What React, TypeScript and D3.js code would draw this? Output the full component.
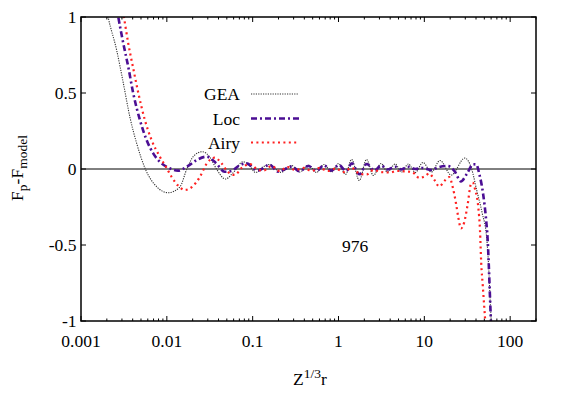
import React from "react";
import * as d3 from "d3";

const W = 568;
const H = 397;

const xTickVals = [0.001, 0.01, 0.1, 1, 10, 100];
const xTickLabels = ["0.001", "0.01", "0.1", "1", "10", "100"];
const yTickVals = [-1, -0.5, 0, 0.5, 1];
const yTickLabels = ["-1", "-0.5", "0", "0.5", "1"];

const geaX = [0.00185, 0.00207, 0.0026, 0.00311, 0.00371, 0.00444, 0.00562, 0.00759, 0.0104, 0.0142, 0.0171, 0.0206, 0.0259, 0.0316, 0.0379, 0.0482, 0.0602, 0.0771, 0.0923, 0.108, 0.131, 0.158, 0.212, 0.284, 0.352, 0.448, 0.555, 0.678, 0.83, 1.0, 1.21, 1.42, 1.75, 2.12, 2.55, 3.13, 3.71, 4.58, 5.4, 6.52, 7.86, 9.62, 12.1, 15.2, 20.6, 29.6, 35.6, 40.7, 47.2, 53.3, 56.2, 58.5, 60.1, 61.8];
const geaY = [1.145, 1.0, 0.783, 0.566, 0.342, 0.171, 0, -0.116, -0.156, -0.118, 0, 0.086, 0.114, 0.079, 0, -0.066, -0.02, 0.048, 0.02, -0.023, 0.013, 0.03, -0.022, 0.023, -0.02, 0.026, -0.023, 0.03, -0.02, 0.036, -0.036, 0.063, -0.076, 0.063, -0.043, 0.036, -0.02, 0.033, -0.02, 0.033, -0.023, 0.043, -0.02, 0.056, -0.04, 0.072, 0, -0.138, -0.29, -0.454, -0.645, -0.862, -1.0, -1.125];

const locX = [0.00242, 0.00272, 0.00311, 0.00355, 0.00406, 0.00486, 0.00581, 0.00694, 0.00868, 0.0108, 0.0135, 0.0177, 0.0223, 0.029, 0.0372, 0.0472, 0.0565, 0.0687, 0.0845, 0.115, 0.158, 0.197, 0.286, 0.352, 0.448, 0.551, 0.675, 0.822, 1.01, 1.23, 1.43, 1.75, 2.13, 2.62, 3.14, 3.71, 4.56, 5.4, 6.39, 7.86, 9.55, 12.0, 14.9, 18.7, 22.6, 26.7, 31.2, 37.2, 40.3, 43.6, 48.6, 52.2, 54.7, 56.2, 57.8, 59.3, 61.0];
const locY = [1.178, 1.0, 0.827, 0.673, 0.498, 0.322, 0.191, 0.103, 0.037, 0.005, -0.011, 0.02, 0.059, 0.081, 0.04, -0.018, -0.013, 0.02, 0.037, -0.011, 0.028, -0.018, 0.016, -0.015, 0.02, -0.013, 0.024, -0.011, 0.026, -0.013, 0.037, -0.035, 0.033, -0.011, 0.023, -0.003, 0.015, -0.003, 0.015, 0, 0.007, -0.007, 0.013, 0.02, -0.016, -0.082, -0.033, 0.031, 0.03, -0.03, -0.171, -0.322, -0.467, -0.612, -0.796, -0.961, -1.125];

const airyX = [0.00284, 0.00316, 0.00355, 0.00406, 0.00466, 0.00555, 0.00664, 0.00829, 0.00993, 0.0114, 0.0135, 0.0162, 0.0202, 0.0242, 0.029, 0.0361, 0.0432, 0.0516, 0.0618, 0.0745, 0.0923, 0.114, 0.134, 0.166, 0.206, 0.255, 0.316, 0.392, 0.487, 0.604, 0.75, 0.93, 1.15, 1.42, 1.75, 2.12, 2.55, 3.16, 3.92, 4.85, 6.01, 7.24, 8.75, 10.0, 11.4, 13.1, 14.9, 17.1, 19.5, 21.4, 23.4, 24.8, 26.7, 29.2, 31.9, 34.9, 36.6, 39.2, 42.5, 44.5, 46.0, 47.9, 49.9, 51.2, 52.6];
const airyY = [1.145, 1.0, 0.827, 0.662, 0.498, 0.322, 0.191, 0.081, 0.007, -0.053, -0.109, -0.138, -0.112, -0.053, 0.033, 0.075, 0.039, -0.02, -0.039, 0.007, 0.033, -0.003, -0.01, 0.02, -0.013, 0.013, -0.007, 0.007, -0.013, 0.007, -0.013, 0.003, -0.02, 0.007, -0.03, -0.036, -0.007, -0.02, -0.023, -0.013, -0.016, -0.02, -0.059, -0.049, -0.03, -0.072, -0.115, -0.079, -0.053, -0.118, -0.227, -0.314, -0.391, -0.349, -0.237, -0.099, -0.089, -0.138, -0.25, -0.401, -0.618, -0.763, -0.908, -1.0, -1.125];

const seriesNames = ["GEA", "Loc", "Airy"];

const M = { left: 81, right: 536, top: 17, bottom: 321 };

const FONT = "Liberation Serif, Times New Roman, DejaVu Serif, serif";
const FS = 17.5;
const SUB = 13.5;

export default function App() {
  const x = d3.scaleLog().domain([0.001, 200]).range([M.left, M.right]);
  const y = d3.scaleLinear().domain([-1, 1]).range([M.bottom, M.top]);

  const mk = (xs: number[], ys: number[]) =>
    d3
      .line<number>()
      .x((_, i) => x(xs[i]))
      .y((d) => y(d))
      .curve(d3.curveMonotoneX)(ys) as string;

  const styles = [
    { color: "#333333", width: 1.1, dash: "1.2,1.2", path: mk(geaX, geaY) },
    { color: "#4b0e94", width: 2.6, dash: "6,3,2,3", path: mk(locX, locY) },
    { color: "#ff2020", width: 2.2, dash: "2,3.4", path: mk(airyX, airyY) },
  ];

  const minor: number[] = [];
  for (let e = -3; e <= 2; e++) {
    for (let k = 2; k <= 9; k++) {
      const v = k * Math.pow(10, e);
      if (v <= 200) minor.push(v);
    }
  }

  const ts = { fontFamily: FONT, fontSize: FS } as React.CSSProperties;
  const legendY = [94, 118.5, 142.5];

  return (
    <svg
      width={W}
      height={H}
      style={{ position: "absolute", left: 0, top: 0, background: "#fff", fontFamily: FONT }}
    >
      <defs>
        <clipPath id="plotclip">
          <rect x={M.left} y={M.top} width={M.right - M.left} height={M.bottom - M.top} />
        </clipPath>
      </defs>
      <rect width={W} height={H} fill="#fff" />
      <line x1={M.left} x2={M.right} y1={y(0)} y2={y(0)} stroke="#000" strokeWidth={1} />
      {xTickVals.map((v) => (
        <g key={"xt" + v}>
          <line x1={x(v)} x2={x(v)} y1={M.bottom} y2={M.bottom - 5} stroke="#000" />
          <line x1={x(v)} x2={x(v)} y1={M.top} y2={M.top + 5} stroke="#000" />
        </g>
      ))}
      {minor.map((v) => (
        <g key={"xm" + v}>
          <line x1={x(v)} x2={x(v)} y1={M.bottom} y2={M.bottom - 2.5} stroke="#000" />
          <line x1={x(v)} x2={x(v)} y1={M.top} y2={M.top + 2.5} stroke="#000" />
        </g>
      ))}
      {yTickVals.map((v) => (
        <g key={"yt" + v}>
          <line x1={M.left} x2={M.left + 5} y1={y(v)} y2={y(v)} stroke="#000" />
          <line x1={M.right} x2={M.right - 5} y1={y(v)} y2={y(v)} stroke="#000" />
        </g>
      ))}
      <g clipPath="url(#plotclip)">
        {styles.map((s, i) => (
          <path
            key={i}
            d={s.path}
            fill="none"
            stroke={s.color}
            strokeWidth={s.width}
            strokeDasharray={s.dash}
          />
        ))}
      </g>
      <rect
        x={M.left}
        y={M.top}
        width={M.right - M.left}
        height={M.bottom - M.top}
        fill="none"
        stroke="#000"
        strokeWidth={1.5}
      />
      {xTickVals.map((v, i) => (
        <text key={"xl" + v} x={x(v)} y={347} textAnchor="middle" style={ts}>
          {xTickLabels[i]}
        </text>
      ))}
      {yTickVals.map((v, i) => (
        <text key={"yl" + v} x={76.5} y={y(v) + 6} textAnchor="end" style={ts}>
          {yTickLabels[i]}
        </text>
      ))}
      {seriesNames.map((n, i) => (
        <g key={n}>
          <text x={240} y={legendY[i] + 6} textAnchor="end" style={ts}>
            {n}
          </text>
          <line
            x1={251}
            x2={299}
            y1={legendY[i]}
            y2={legendY[i]}
            stroke={styles[i].color}
            strokeWidth={styles[i].width}
            strokeDasharray={styles[i].dash}
          />
        </g>
      ))}
      <text x={355} y={251.5} textAnchor="middle" style={ts}>
        976
      </text>
      <text x={310} y={385} textAnchor="middle" style={ts}>
        Z<tspan dy={-7} style={{ fontSize: SUB }}>1/3</tspan>
        <tspan dy={7}>r</tspan>
      </text>
      <text transform="translate(23,168) rotate(-90)" textAnchor="middle" style={ts}>
        F<tspan dy={4} style={{ fontSize: SUB }}>p</tspan>
        <tspan dy={-4}>-F</tspan>
        <tspan dy={4} style={{ fontSize: SUB }}>model</tspan>
      </text>
    </svg>
  );
}
